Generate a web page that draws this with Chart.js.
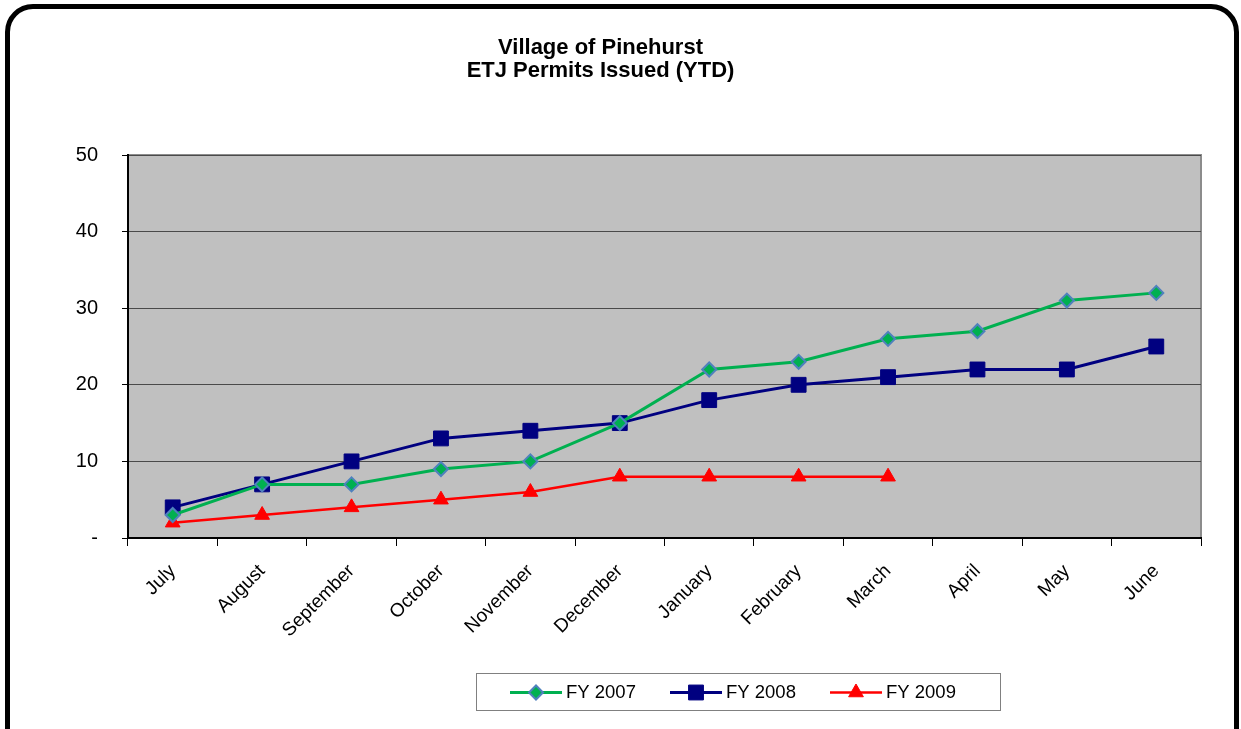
<!DOCTYPE html>
<html>
<head>
<meta charset="utf-8">
<script src="https://cdn.jsdelivr.net/npm/chart.js@4/dist/chart.umd.min.js"></script>
<style>
    html, body { margin: 0; padding: 0; background: #fff; overflow: hidden; }
    #wrap { position: relative; width: 1241px; height: 729px; }
    #frame {
        position: absolute; left: 5px; top: 4px; width: 1224px; height: 760px;
        border: 5px solid #000; border-radius: 28px; background: #fff;
    }
    #chart { position: absolute; left: 0; top: 0; }
</style>
</head>
<body>
<div id="wrap">
    <div id="frame"></div>
    <canvas id="chart" width="1241" height="729"></canvas>
</div>
<script>
const MONTHS = ['July', 'August', 'September', 'October', 'November', 'December',
    'January', 'February', 'March', 'April', 'May', 'June'];
const FY2007 = [3, 7, 7, 9, 10, 15, 22, 23, 26, 27, 31, 32];
const FY2008 = [4, 7, 10, 13, 14, 15, 18, 20, 21, 22, 22, 25];
const FY2009 = [2, 3, 4, 5, 6, 8, 8, 8, 8];
const TITLE = ['Village of Pinehurst', 'ETJ Permits Issued (YTD)'];
const FONT = "'Liberation Sans', Arial, sans-serif";

// grey plot background with a thin grey frame (top/right)
const plotBg = {
    id: 'plotBg',
    beforeDraw(chart) {
        const { ctx, chartArea: a } = chart;
        ctx.save();
        ctx.fillStyle = '#C0C0C0';
        ctx.fillRect(a.left, a.top, a.right - a.left, a.bottom - a.top);
        ctx.strokeStyle = '#8C8C8C';
        ctx.lineWidth = 2;
        ctx.strokeRect(a.left, a.top, a.right - a.left, a.bottom - a.top);
        ctx.restore();
    }
};

// Excel-like legend: line with marker, boxed, under the chart
const boxLegend = {
    id: 'boxLegend',
    afterDraw(chart) {
        const ctx = chart.ctx;
        const box = { x: 476, y: 673, w: 524, h: 37 };
        const cy = box.y + box.h / 2 + 1;
        ctx.save();
        ctx.strokeStyle = '#808080';
        ctx.lineWidth = 1;
        ctx.strokeRect(box.x + 0.5, box.y + 0.5, box.w, box.h);
        const starts = [510, 670, 830];
        chart.data.datasets.forEach((ds, i) => {
            const x0 = starts[i];
            ctx.strokeStyle = ds.borderColor;
            ctx.lineWidth = ds.borderWidth;
            ctx.beginPath();
            ctx.moveTo(x0, cy);
            ctx.lineTo(x0 + 52, cy);
            ctx.stroke();
            ctx.fillStyle = ds.pointBackgroundColor;
            ctx.strokeStyle = ds.pointBorderColor;
            ctx.lineWidth = ds.pointBorderWidth;
            Chart.helpers.drawPoint(ctx, {
                pointStyle: ds.pointStyle,
                radius: ds.pointRadius,
                rotation: 0,
                borderWidth: ds.pointBorderWidth
            }, x0 + 26, cy);
            ctx.fillStyle = '#000';
            ctx.font = '18.5px ' + FONT;
            ctx.textBaseline = 'middle';
            ctx.textAlign = 'left';
            ctx.fillText(ds.label, x0 + 56, cy);
        });
        ctx.restore();
    }
};

new Chart(document.getElementById('chart'), {
    type: 'line',
    data: {
        labels: MONTHS,
        datasets: [
            {
                label: 'FY 2007',
                data: FY2007,
                borderColor: '#00B050',
                borderWidth: 3,
                pointStyle: 'rectRot',
                pointRadius: 7,
                pointBackgroundColor: '#00B050',
                pointBorderColor: '#4F81BD',
                pointBorderWidth: 2
            },
            {
                label: 'FY 2008',
                data: FY2008,
                borderColor: '#000080',
                borderWidth: 3,
                pointStyle: 'rect',
                pointRadius: 10.5,
                pointBackgroundColor: '#000080',
                pointBorderColor: '#000080',
                pointBorderWidth: 1
            },
            {
                label: 'FY 2009',
                data: FY2009,
                borderColor: '#FF0000',
                borderWidth: 2.5,
                pointStyle: 'triangle',
                pointRadius: 8.5,
                pointBackgroundColor: '#FF0000',
                pointBorderColor: '#FF0000',
                pointBorderWidth: 1
            }
        ]
    },
    options: {
        responsive: false,
        animation: false,
        layout: { padding: { left: 0, right: 40, top: 0, bottom: 71 } },
        plugins: {
            legend: { display: false },
            tooltip: { enabled: false },
            title: {
                display: true,
                text: TITLE,
                color: '#000',
                font: { family: FONT, size: 22, weight: 'bold', lineHeight: '23px' },
                padding: { top: 36, bottom: 73 }
            }
        },
        scales: {
            x: {
                offset: true,
                grid: { offset: true, drawOnChartArea: false, color: '#000', tickColor: '#000', tickLength: 8 },
                border: { color: '#000', width: 2 },
                ticks: {
                    color: '#000',
                    font: { family: FONT, size: 19 },
                    minRotation: 45,
                    maxRotation: 45,
                    padding: 14,
                    autoSkip: false
                },
                afterFit: (s) => { s.height = 120; }
            },
            y: {
                min: 0,
                max: 50,
                ticks: {
                    stepSize: 10,
                    color: '#000',
                    font: { family: FONT, size: 20 },
                    padding: 24,
                    callback: (v) => v === 0 ? '-' : v
                },
                grid: { color: '#4A4A4A', lineWidth: 1, tickColor: '#000', tickLength: 6 },
                border: { color: '#000', width: 2 },
                afterFit: (s) => { s.width = 128; }
            }
        }
    },
    plugins: [plotBg, boxLegend]
});
</script>
</body>
</html>
